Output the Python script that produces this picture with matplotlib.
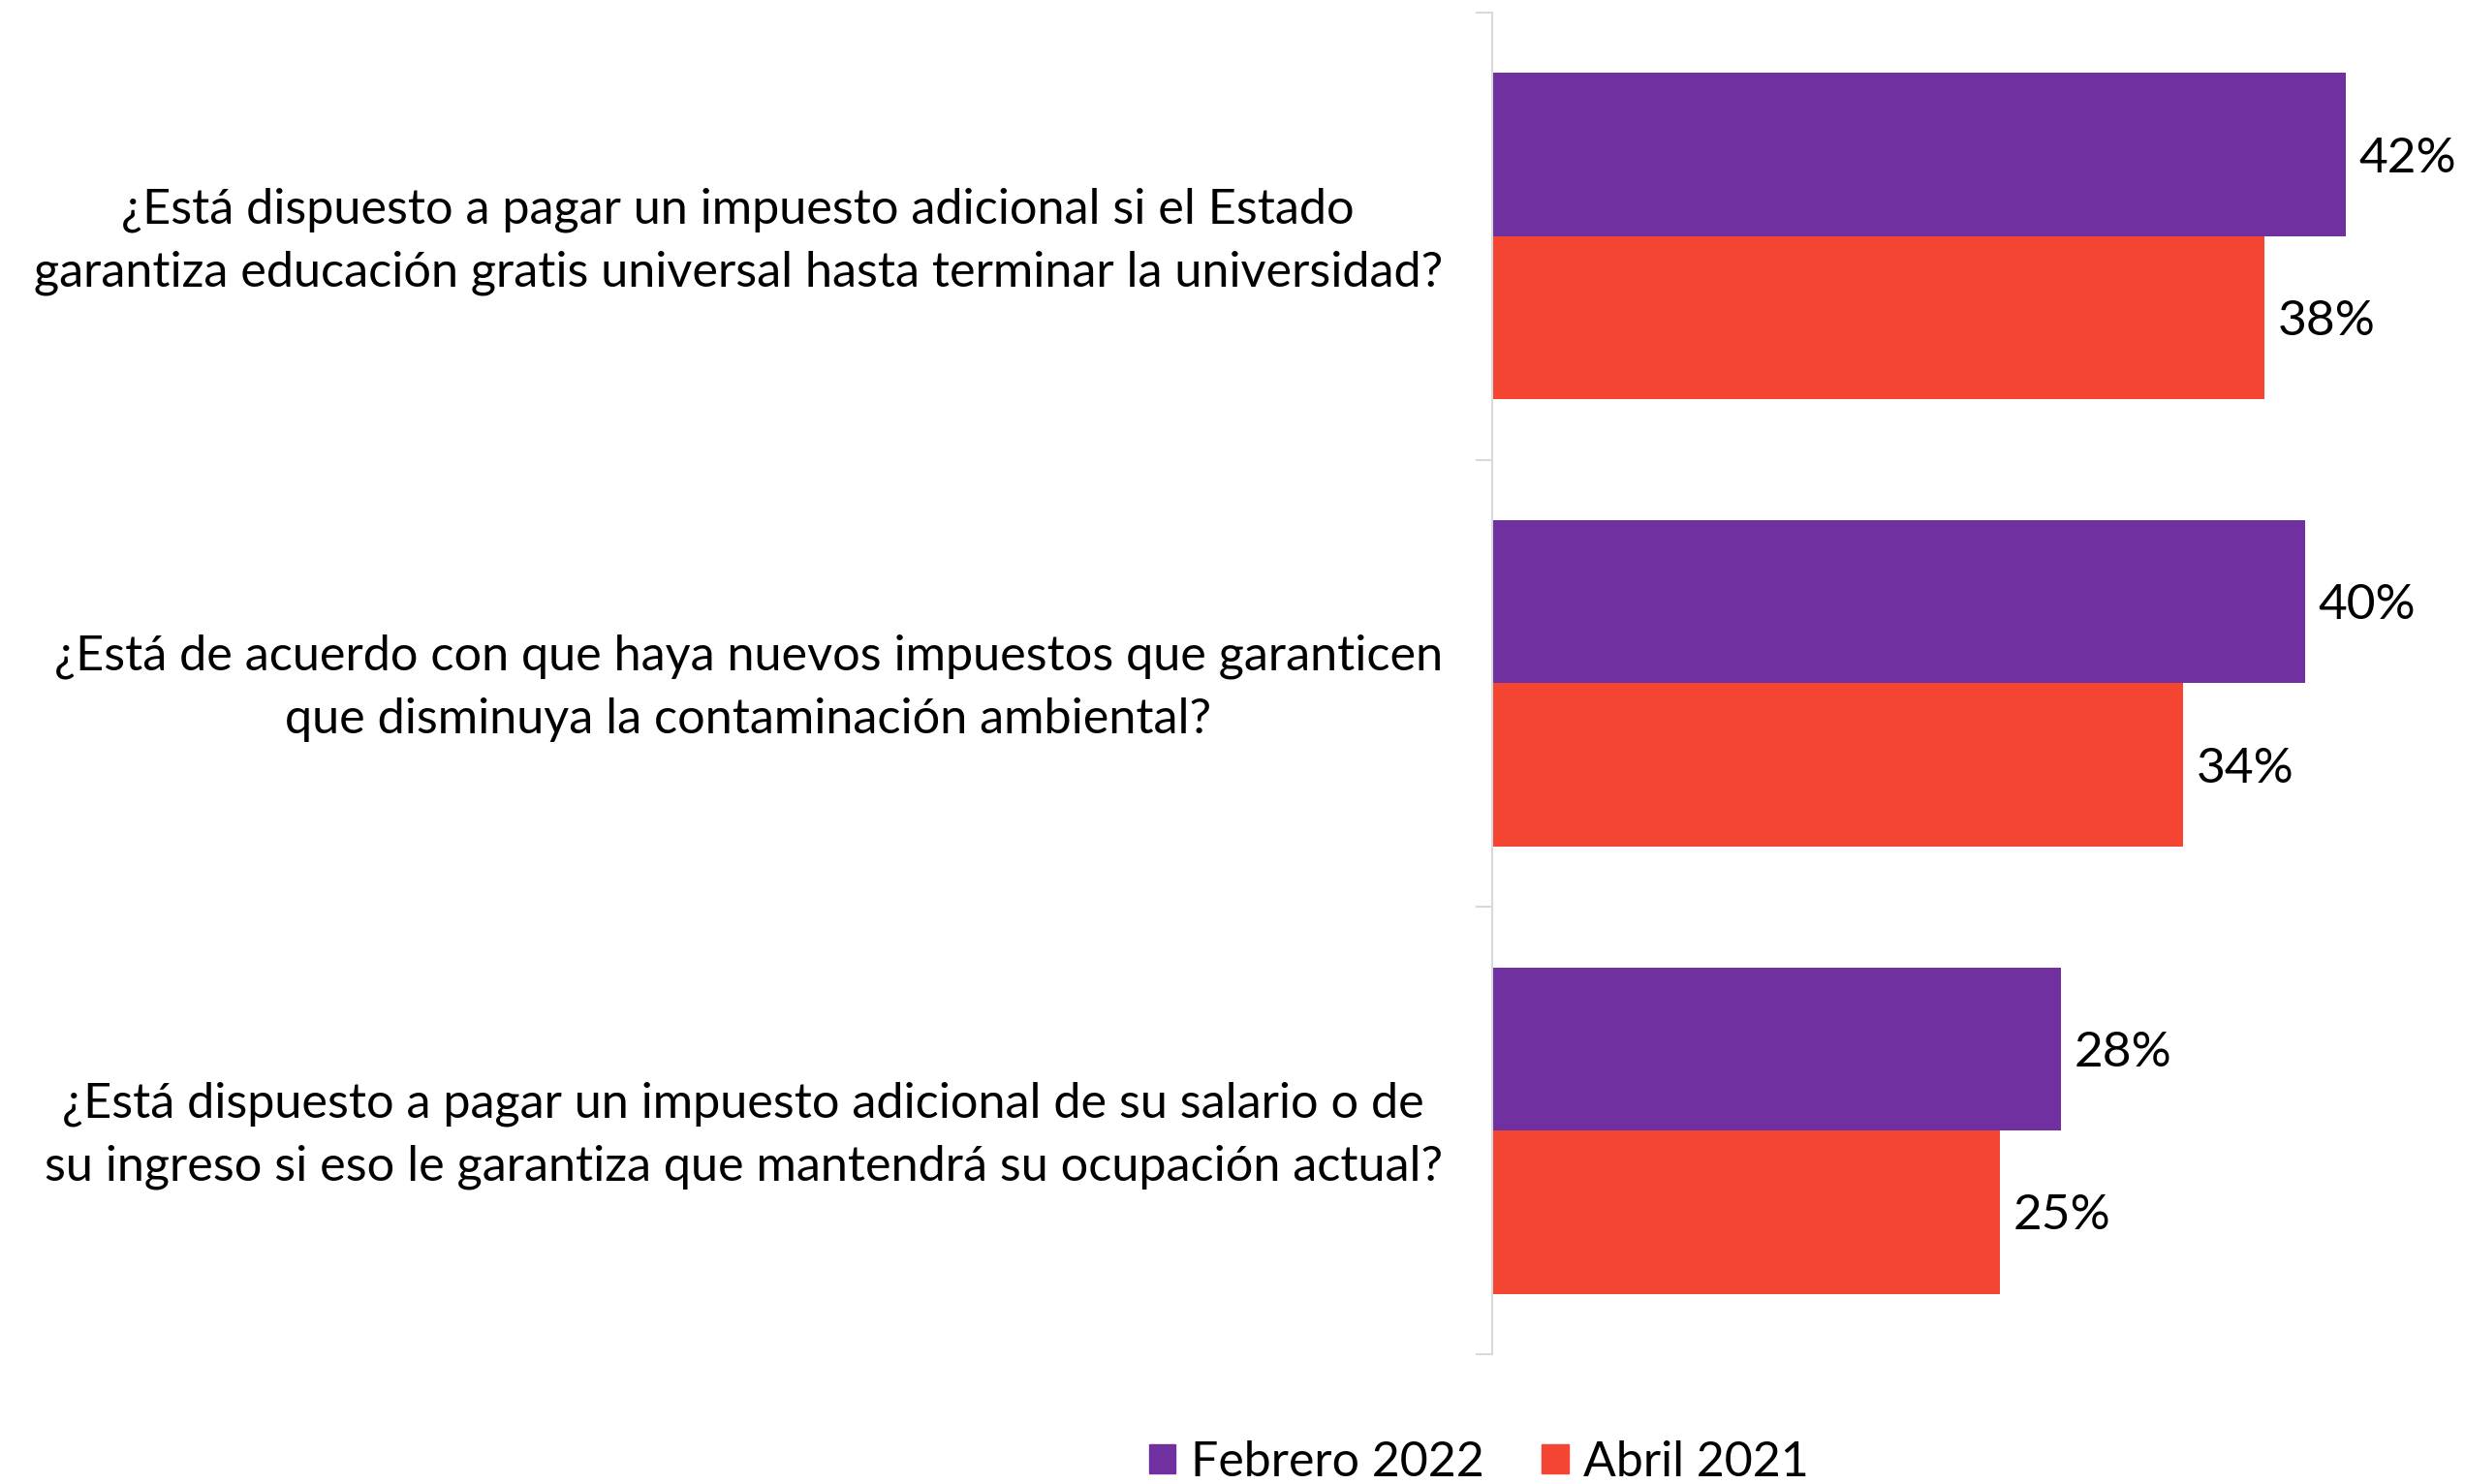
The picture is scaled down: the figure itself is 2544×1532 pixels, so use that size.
import numpy as np
import matplotlib.pyplot as plt
from matplotlib.patches import Patch

# survey questions and results
preguntas = [
    "¿Está dispuesto a pagar un impuesto adicional si el Estado\ngarantiza educación gratis universal hasta terminar la universidad?",
    "¿Está de acuerdo con que haya nuevos impuestos que garanticen\nque disminuya la contaminación ambiental?",
    "¿Está dispuesto a pagar un impuesto adicional de su salario o de\nsu ingreso si eso le garantiza que mantendrá su ocupación actual?",
]
series = ["Febrero 2022", "Abril 2021"]
feb_2022 = [0.42, 0.40, 0.28]
abr_2021 = [0.38, 0.34, 0.25]
colores = ["#7030A0", "#F34532"]

fig = plt.figure(figsize=(25.44, 15.32), dpi=100)
ax = fig.add_axes([0.6053, 0.0875, 0.3709, 0.904])

y = np.arange(len(preguntas))
h = 0.365
bars1 = ax.barh(y - h / 2, feb_2022, height=h, color=colores[0])
bars2 = ax.barh(y + h / 2, abr_2021, height=h, color=colores[1])

ax.set_xlim(0, 0.45)
ax.set_ylim(2.5, -0.5)

for bars, vals in [(bars1, feb_2022), (bars2, abr_2021)]:
    for b, v in zip(bars, vals):
        ax.annotate(f"{v:.0%}", (b.get_width(), b.get_y() + b.get_height() / 2),
                    xytext=(14, -4), textcoords="offset pixels",
                    va="center", ha="left", fontsize=37, family="Lato")

# question labels, block right aligned, lines centered
for yi, txt in zip(y, preguntas):
    ax.annotate(txt, (-0.054, yi), xycoords=ax.get_yaxis_transform(),
                xytext=(0, -5), textcoords="offset pixels",
                ha="right", va="center", multialignment="center",
                fontsize=36.3, family="Lato", linespacing=1.5)

for s in ["top", "right", "bottom"]:
    ax.spines[s].set_visible(False)
ax.spines["left"].set_color("#d9d9d9")
ax.spines["left"].set_linewidth(1.5)
ax.set_yticks([-0.5, 0.5, 1.5, 2.5])
ax.set_yticklabels([])
ax.tick_params(axis="y", length=12, width=1.5, color="#d9d9d9")
ax.set_xticks([])

handles = [Patch(color=c, label=l) for c, l in zip(colores, series)]
fig.legend(handles=handles, loc="center", bbox_to_anchor=(0.600, 0.0144),
           ncol=2, frameon=False, prop={"family": "Lato", "size": 36},
           handlelength=0.55, handleheight=0.55, handletextpad=0.31,
           columnspacing=1.2)

fig.savefig("out.png", dpi=100)
